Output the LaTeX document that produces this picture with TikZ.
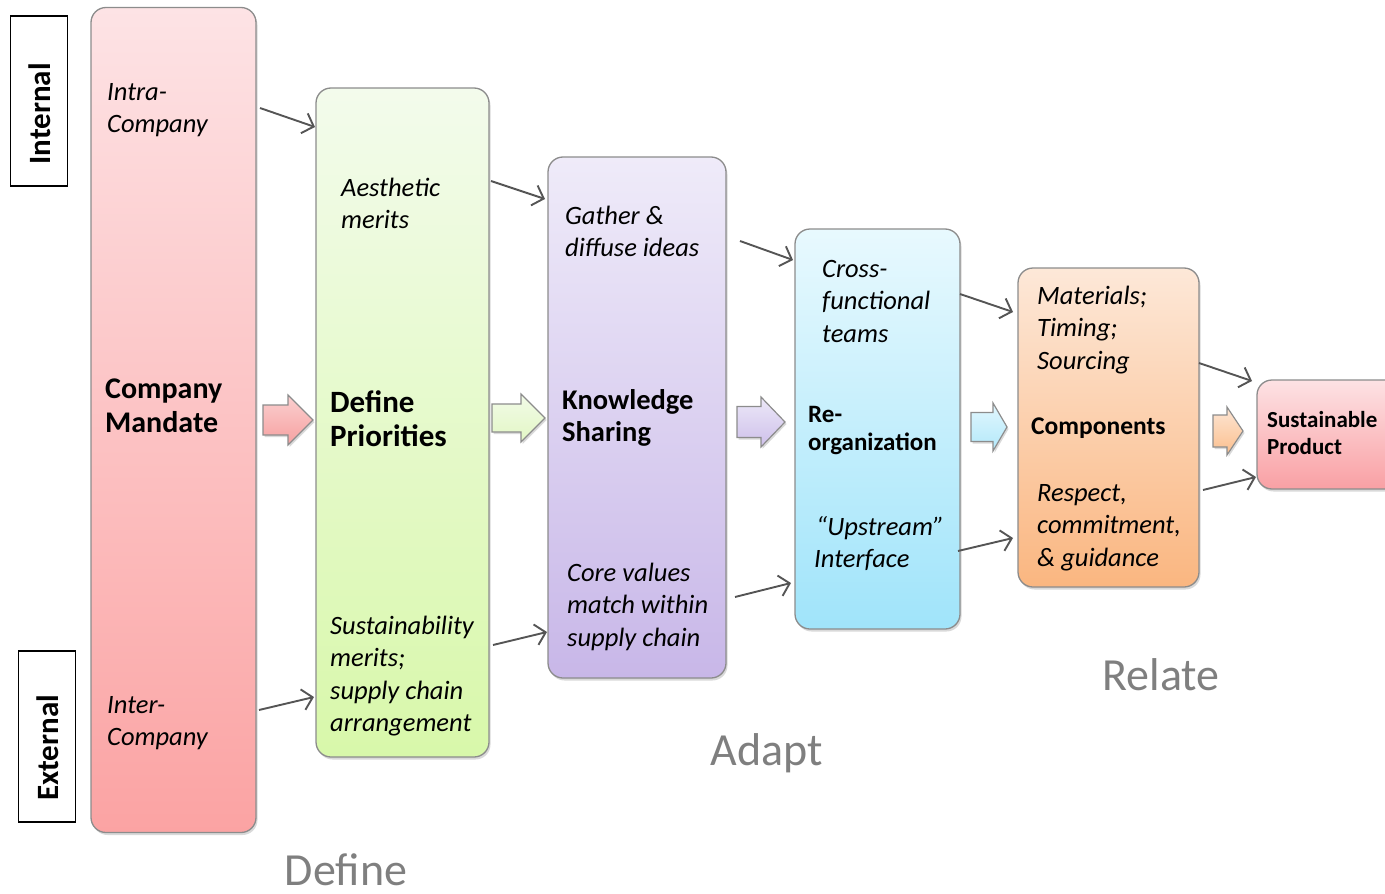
\documentclass[tikz,border=0pt]{standalone}
\usepackage{fontspec}
\setmainfont{Carlito}
\usetikzlibrary{arrows.meta,shadows}
\definecolor{edge}{HTML}{8C8C8C}
\definecolor{arr}{HTML}{555555}
\definecolor{cap}{HTML}{7F7F7F}
\begin{document}
\begin{tikzpicture}[x=1pt,y=-1pt,
  box/.style={draw=edge, line width=1.3pt, rounded corners=15pt, inner sep=0pt,
    drop shadow={opacity=0.3, shadow xshift=1.5pt, shadow yshift=-2.5pt}},
  tag/.style={draw=black, line width=1.2pt, fill=white, inner sep=0pt},
  barrow/.style={draw=edge, line width=1.2pt,
    drop shadow={opacity=0.3, shadow xshift=1.5pt, shadow yshift=-2pt}},
  itx/.style={font=\fontsize{26.5}{32.5}\selectfont\itshape, align=left, anchor=base west, inner sep=0pt},
  bld/.style 2 args={font=\fontsize{#1}{#2}\selectfont\bfseries, align=left, anchor=base west, inner sep=0pt},
  tagtxt/.style={rotate=90, font=\fontsize{31}{33}\selectfont\bfseries, inner sep=0pt},
  stage/.style={font=\fontsize{46}{50}\selectfont, text=cap, anchor=base, inner sep=0pt},
  link/.style={draw=arr, line width=1.9pt, -{Straight Barb[length=10pt,width=21pt,line width=1.9pt]}}
]
\useasboundingbox (0,0) rectangle (1385,894);

% side tags
\node[tag, minimum width=57pt, minimum height=170pt] (internal) at (39,101) {};
\node[tagtxt] (internaltxt) at (40,114) {Internal};
\node[tag, minimum width=57pt, minimum height=171pt] (external) at (47,736.5) {};
\node[tagtxt] (externaltxt) at (48,748) {External};

% main boxes
\node[box, minimum width=165pt, minimum height=825pt, top color={rgb,255:red,253;green,227;blue,229}, bottom color={rgb,255:red,251;green,163;blue,163}] (mandate) at (173.5,420) {};
\node[box, minimum width=173pt, minimum height=669pt, top color={rgb,255:red,243;green,251;blue,236}, middle color={rgb,255:red,231;green,250;blue,204}, bottom color={rgb,255:red,216;green,248;blue,170}] (define) at (402.5,422.5) {};
\node[box, minimum width=178pt, minimum height=521pt, top color={rgb,255:red,239;green,235;blue,249}, bottom color={rgb,255:red,200;green,183;blue,232}] (knowledge) at (637,417.5) {};
\node[box, minimum width=165pt, minimum height=400pt, top color={rgb,255:red,232;green,249;blue,254}, bottom color={rgb,255:red,160;green,228;blue,250}] (reorg) at (877.5,429) {};
\node[box, minimum width=181pt, minimum height=319pt, top color={rgb,255:red,253;green,232;blue,216}, bottom color={rgb,255:red,250;green,182;blue,128}] (components) at (1108.5,427.5) {};
\node[box, minimum width=160pt, minimum height=109pt, top color={rgb,255:red,253;green,226;blue,228}, bottom color={rgb,255:red,249;green,160;blue,164}] (product) at (1337,434.5) {};

% block arrows
\path[barrow, top color={rgb,255:red,251;green,208;blue,208}, bottom color={rgb,255:red,246;green,160;blue,160}]
  (263,405) -- (288,405) -- (288,395) -- (313,420) -- (288,445) -- (288,435) -- (263,435) -- cycle;
\path[barrow, top color={rgb,255:red,242;green,251;blue,232}, bottom color={rgb,255:red,226;green,247;blue,196}]
  (492,404) -- (521,404) -- (521,394) -- (545,418) -- (521,442) -- (521,432) -- (492,432) -- cycle;
\path[barrow, top color={rgb,255:red,236;green,232;blue,248}, bottom color={rgb,255:red,206;green,192;blue,234}]
  (737,406.5) -- (761,406.5) -- (761,397) -- (785,422) -- (761,447) -- (761,437.5) -- (737,437.5) -- cycle;
\path[barrow, top color={rgb,255:red,226;green,247;blue,254}, bottom color={rgb,255:red,178;green,232;blue,250}]
  (971,412.5) -- (993,412.5) -- (993,403) -- (1007,427) -- (993,451) -- (993,441.5) -- (971,441.5) -- cycle;
\path[barrow, top color={rgb,255:red,253;green,230;blue,212}, bottom color={rgb,255:red,251;green,190;blue,140}]
  (1213,415) -- (1227,415) -- (1227,407) -- (1243,431) -- (1227,455) -- (1227,447) -- (1213,447) -- cycle;

% texts (anchor = baseline of the last line)
\node[itx] (intra) at (107,132.5) {Intra-\\Company};
\node[bld={30}{34}] (mandatetxt) at (105,432) {Company\\Mandate};
\node[itx] (inter) at (107,745.5) {Inter-\\Company};

\node[itx] (aesthetic) at (341,228.5) {Aesthetic\\merits};
\node[bld={31}{34}] (definetxt) at (330,446) {Define\\Priorities};
\node[itx] (sustain) at (330,731.5) {Sustainability\\merits;\\supply chain\\arrangement};

\node[itx] (gather) at (565,256.5) {Gather \&\\diffuse ideas};
\node[bld={28.5}{32}] (knowtxt) at (562,441) {Knowledge\\Sharing};
\node[itx] (core) at (567,646) {Core values\\match within\\supply chain};

\node[itx] (cross) at (822,342) {Cross-\\functional\\teams};
\node[bld={25}{28}] (reorgtxt) at (808,450) {Re-\\organization};
\node[itx] (upstream) at (814,567.5) {\hspace*{2pt}“Upstream”\\Interface};

\node[itx] (materials) at (1037,369) {Materials;\\Timing;\\Sourcing};
\node[bld={25.5}{28}] (comptxt) at (1031,434) {Components};
\node[itx] (respect) at (1037,566) {Respect,\\commitment,\\\& guidance};

\node[bld={23}{27}] (prodtxt) at (1267,454) {Sustainable\\Product};

\node[stage] (definecap) at (346,885) {Define};
\node[stage] (adaptcap) at (767,765) {Adapt};
\node[stage] (relatecap) at (1161,690) {Relate};

% thin connectors
\coordinate (a1s) at (260,108); \coordinate (a1e) at (315,127);
\coordinate (a2s) at (259,710); \coordinate (a2e) at (314,697);
\coordinate (a3s) at (491,181); \coordinate (a3e) at (545,199);
\coordinate (a4s) at (493,645); \coordinate (a4e) at (547,632);
\coordinate (a5s) at (740,241); \coordinate (a5e) at (793,260);
\coordinate (a6s) at (735,597); \coordinate (a6e) at (791,583);
\coordinate (a7s) at (960,294); \coordinate (a7e) at (1013,312);
\coordinate (a8s) at (958,551); \coordinate (a8e) at (1013,538);
\coordinate (a9s) at (1199,363); \coordinate (a9e) at (1252,381);
\coordinate (a10s) at (1203,490); \coordinate (a10e) at (1256,477);
\foreach \i in {1,...,10} { \draw[link] (a\i s) -- (a\i e); }
\end{tikzpicture}
\end{document}
